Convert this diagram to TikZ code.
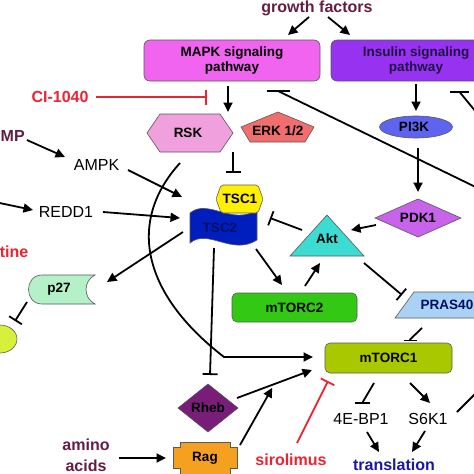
\documentclass[tikz,border=0pt]{standalone}
\usepackage{fontspec}
\setmainfont{Liberation Sans}
\usetikzlibrary{arrows.meta,calc,shapes.geometric}
\definecolor{maroonc}{RGB}{100,30,70}
\definecolor{redc}{RGB}{235,35,50}
\definecolor{navyc}{RGB}{25,25,160}
\definecolor{mapkc}{RGB}{240,100,240}
\definecolor{insc}{RGB}{150,50,240}
\definecolor{rskc}{RGB}{240,160,220}
\definecolor{erkc}{RGB}{240,110,110}
\definecolor{pikc}{RGB}{95,100,240}
\definecolor{pdkc}{RGB}{200,100,235}
\definecolor{aktc}{RGB}{60,220,210}
\definecolor{tscac}{RGB}{255,240,0}
\definecolor{tscbc}{RGB}{0,30,190}
\definecolor{tscbt}{RGB}{0,15,100}
\definecolor{pc}{RGB}{180,240,200}
\definecolor{yc}{RGB}{215,240,60}
\definecolor{mtbc}{RGB}{50,200,20}
\definecolor{prasc}{RGB}{170,210,245}
\definecolor{mtac}{RGB}{170,200,0}
\definecolor{rhebc}{RGB}{120,30,120}
\definecolor{ragc}{RGB}{245,160,30}
\begin{document}
\begin{tikzpicture}[x=1pt,y=-1pt,
  every node/.style={inner sep=0pt},
  lbl/.style={font=\bfseries\fontsize{13.5}{15.5}\selectfont},
  big/.style={font=\bfseries\fontsize{16}{17}\selectfont},
  reg/.style={font=\fontsize{16}{17}\selectfont},
  shp/.style={draw=black!65, line width=0.6pt},
  box/.style={shp, rounded corners=6pt, align=center, lbl},
  arr/.style={line width=1.8pt, -{Triangle[length=9.5pt,width=9pt]}},
  inh/.style={line width=1.8pt, -{Bar[width=15pt]}},
  ln/.style={line width=1.8pt},
]
\useasboundingbox (0,0) rectangle (474,474);
\fill[white] (0,0) rectangle (474,474);

% ---------- shapes ----------
\node[box, fill=mapkc, minimum width=176pt, minimum height=41pt] (mapk) at (232,60.5) {MAPK signaling\\pathway};
\node[box, fill=insc, text={rgb,255:red,30;green,20;blue,70}, minimum width=170pt, minimum height=41pt] (ins) at (416,60.5) {Insulin signaling\\pathway};
\node[box, fill=mtbc, rounded corners=5pt, minimum width=125pt, minimum height=29pt] (mtorc2) at (294.5,307.5) {mTORC2};
\node[box, fill=mtac, rounded corners=5pt, minimum width=127pt, minimum height=30pt] (mtorc1) at (388.5,358) {mTORC1};

\draw[shp, fill=rskc] (147,133) -- (160,114) -- (220,114) -- (233,133) -- (220,152) -- (160,152) -- cycle;
\draw[shp, fill=erkc] (278,112) -- (314,127) -- (305,142) -- (250,142) -- (241,127) -- cycle;
\draw[shp, fill=pikc] (416,127) ellipse [x radius=36.5, y radius=11];
\draw[shp, fill=pdkc] (375,218) -- (418,199) -- (461,218) -- (418,237) -- cycle;
\draw[shp, fill=aktc] (327,215) -- (364,256) -- (290,256) -- cycle;
\draw[shp, fill=tscbc] (190,213) .. controls (208,198) and (232,226) .. (257,210) -- (257,240) .. controls (232,256) and (208,228) .. (190,243) -- cycle;
\draw[shp, fill=tscac, rounded corners=2pt] (216,199) -- (221,185) -- (258,185) -- (263,199) -- (258,213) -- (221,213) -- cycle;
\draw[shp, fill=pc] (42,275) -- (95,275) .. controls (83,281) and (83,298) .. (95,304) -- (42,304) .. controls (24,304) and (24,275) .. (42,275) -- cycle;
\draw[shp, fill=yc] (0,339) ellipse [x radius=17, y radius=14];
\draw[shp, fill=prasc] (395,318) -- (414,292) -- (495,292) -- (495,318) -- cycle;
\draw[shp, fill=rhebc] (178,408) -- (208,384) -- (238,408) -- (208,432) -- cycle;
\draw[shp, fill=ragc] (180,442) -- (230,442) -- (230,447) -- (237,447) -- (237,468) -- (230,468) -- (230,474) -- (180,474) -- (180,468) -- (173,468) -- (173,447) -- (180,447) -- cycle;

% ---------- labels ----------
\node[big, text=maroonc] (gf) at (317,8) {growth factors};
\node[big, text=redc] (ci) at (60,97) {CI-1040};
\node[big, text=maroonc, anchor=west] (mp) at (0.5,136) {MP};
\node[reg] (ampk) at (96.5,164.5) {AMPK};
\node[reg] (redd1) at (66,211.5) {REDD1};
\node[big, text=redc, anchor=east] (tine) at (28.5,251.5) {tine};
\node[lbl] (rsk) at (188,133) {RSK};
\node[lbl] (erk) at (278,131) {ERK 1/2};
\node[lbl] (pi3k) at (414,127) {PI3K};
\node[lbl] (pdk1) at (418,218) {PDK1};
\node[lbl] (akt) at (327,239) {Akt};
\node[lbl] (tsc1) at (240,198.5) {TSC1};
\node[lbl, text=tscbt] (tsc2) at (220,228) {TSC2};
\node[lbl] (p27) at (59,289) {p27};
\node[lbl] (ycirc) at (0,339) {};
\node[lbl, text=tscbt] (pras40) at (447,305) {PRAS40};
\node[lbl] (rheb) at (208,408) {Rheb};
\node[lbl] (rag) at (205,458) {Rag};
\node[big, text=maroonc, align=center, font=\bfseries\fontsize{16}{21}\selectfont] (amino) at (86,455) {amino\\acids};
\node[big, text=redc] (siro) at (291,459.5) {sirolimus};
\node[reg] (e4bp1) at (361,418.5) {4E-BP1};
\node[reg] (s6k1) at (428,418.5) {S6K1};
\node[big, text=navyc] (trans) at (394,464.5) {translation};

% ---------- free ends ----------
\coordinate (fbA) at (490,194);
\coordinate (fbB) at (490,129);
\coordinate (leftin) at (-10,201);
\coordinate (s6out) at (488,381);

% ---------- connectors ----------
\draw[arr] ($(gf)+(-8,9)$) -- ($(mapk)+(56,-25.5)$);
\draw[arr] ($(gf)+(11,9)$) -- ($(ins)+(-66,-25.5)$);
\draw[arr] ($(mapk)+(-4,25.5)$) -- ($(rsk)+(40,-21)$);
\draw[arr] ($(ins)+(0,23.5)$) -- ($(pi3k)+(2,-16)$);
\draw[arr] ($(pi3k)+(4,21)$) -- ($(pdk1)+(0,-26)$);
\draw[arr] ($(pdk1)+(-42,7)$) -- ($(akt)+(24,-9)$);
\draw[arr] ($(mp.east)+(2,4)$) -- ($(ampk)+(-31.5,-7.5)$);
\draw[arr] ($(ampk)+(31.5,5.5)$) -- ($(tsc2)+(-38,-31)$);
\draw[arr] (leftin) -- ($(redd1)+(-33,-1.5)$);
\draw[arr] ($(redd1)+(37,0.5)$) -- ($(tsc2)+(-40,-10)$);
\draw[arr] ($(tsc2)+(-37,4)$) -- ($(p27)+(48,-7)$);
\draw[arr] ($(tsc2)+(36,21)$) -- ($(mtorc2)+(-12.5,-22.5)$);
\draw[arr] ($(mtorc2)+(10.5,-21.5)$) -- ($(akt)+(-7,24)$);
\draw[arr] ($(rsk)+(-8,30)$) .. controls (128,220) and (140,292) .. (224,357) -- ($(mtorc1)+(-75.5,-1)$);
\draw[arr] ($(rheb)+(29,-10)$) coordinate (rhA) -- ($(mtorc1)+(-76.5,12)$) coordinate (rhB);
\draw[arr] ($(rag)+(35,-13)$) -- ($(rhA)!0.47!(rhB)+(0,3)$);
\draw[arr] ($(amino)+(33,3)$) -- ($(rag)+(-39,0)$);
\draw[arr] ($(mtorc1)+(21.5,25)$) -- ($(s6k1)+(2,-15.5)$);
\draw[arr] ($(e4bp1)+(6,13.5)$) -- ($(trans)+(-15,-12.5)$);
\draw[arr] ($(s6k1)+(-3,12.5)$) -- ($(trans)+(18,-12.5)$);
\draw[ln] ($(s6k1)+(29,-6.5)$) -- (s6out);

% inhibitions
\draw[inh, draw=redc] ($(ci)+(36,0)$) -- ($(mapk)+(-25,36.5)$);
\draw[ln] (fbA) -- ($(mapk)+(46,30.5)$);
\draw[ln] ($(mapk)+(35,30.5)$) -- ($(mapk)+(58,30.5)$);
\draw[ln] (fbB) -- ($(ins)+(44,32)$);
\draw[ln] ($(ins)+(34,31.5)$) -- ($(ins)+(53,31.5)$);
\draw[inh] ($(rsk)+(45,19)$) -- ($(tsc1)+(-7,-25.5)$);
\draw[inh] ($(akt)+(-25,-9)$) -- ($(tsc1)+(30,19.5)$);
\draw[inh] ($(tsc2)+(-6,20)$) -- ($(rheb)+(2,-33)$);
\draw[inh] ($(akt)+(37,24)$) -- ($(pras40)+(-45,-10)$);
\draw[ln] ($(pras40)+(-25,23)$) -- ($(mtorc1)+(21,-18)$);
\draw[ln] ($(mtorc1)+(15,-17.5)$) -- ($(mtorc1)+(28,-17.5)$);
\draw[ln] ($(mtorc1)+(-14.5,25)$) -- ($(e4bp1)+(1.5,-16)$);
\draw[ln] ($(e4bp1)+(-6,-15.5)$) -- ($(e4bp1)+(8.5,-15.5)$);
\draw[inh, draw=redc] ($(siro)+(6,-16.5)$) -- ($(mtorc1)+(-60.5,23)$);
\draw[inh] ($(p27)+(-32,13)$) -- ($(ycirc)+(15,-18)$);
\end{tikzpicture}
\end{document}
